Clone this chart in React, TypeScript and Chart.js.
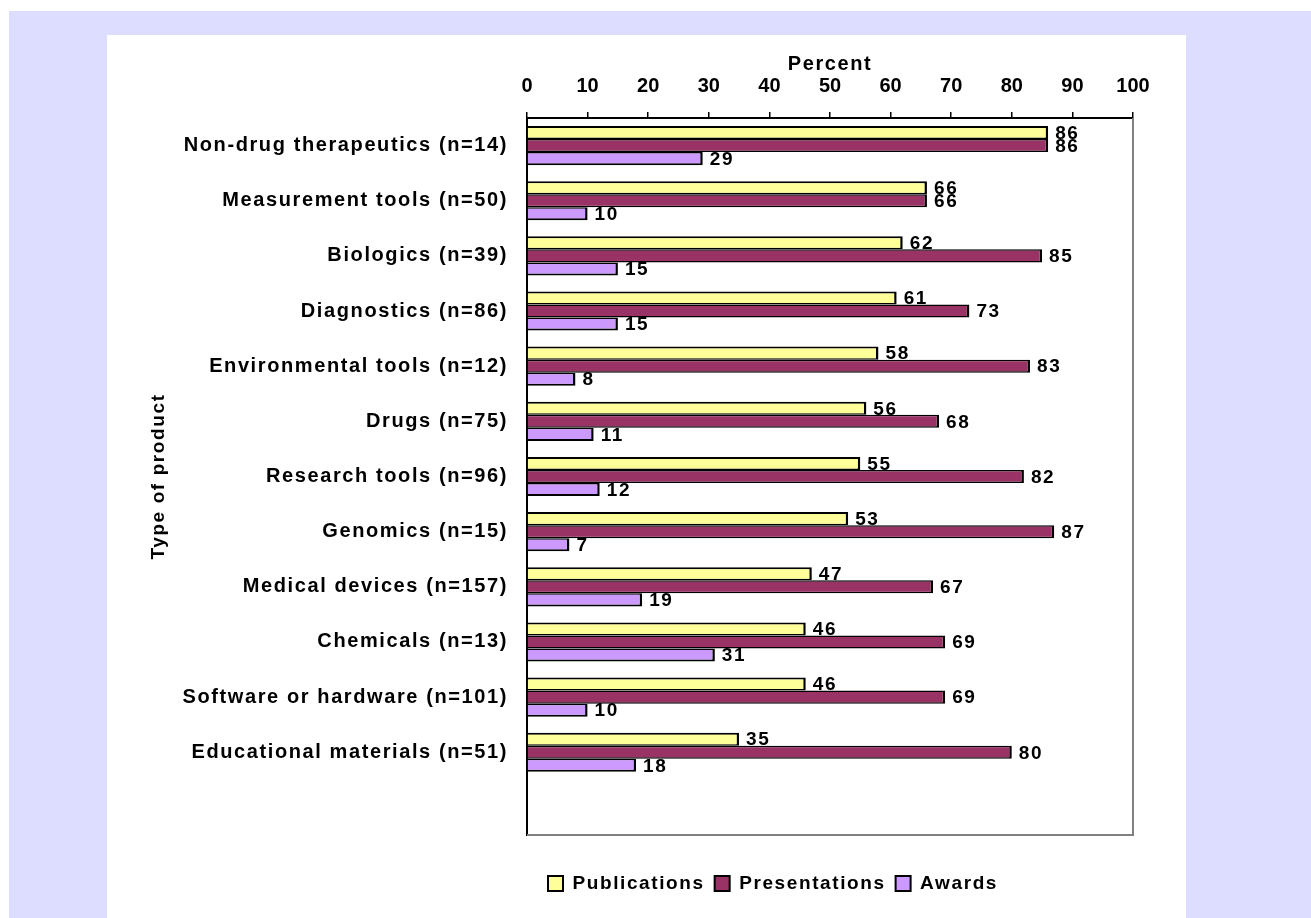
import React, { useEffect, useRef } from 'react';
import { Chart, registerables } from 'chart.js';

Chart.register(...registerables);

const categories = [
  'Non-drug therapeutics (n=14)',
  'Measurement tools (n=50)',
  'Biologics (n=39)',
  'Diagnostics (n=86)',
  'Environmental tools (n=12)',
  'Drugs (n=75)',
  'Research tools (n=96)',
  'Genomics (n=15)',
  'Medical devices (n=157)',
  'Chemicals (n=13)',
  'Software or hardware (n=101)',
  'Educational materials (n=51)',
  '',
];
const publications = [86, 66, 62, 61, 58, 56, 55, 53, 47, 46, 46, 35];
const presentations = [86, 66, 85, 73, 83, 68, 82, 87, 67, 69, 69, 80];
const awards = [29, 10, 15, 15, 8, 11, 12, 7, 19, 31, 10, 18];
const seriesNames = ['Publications', 'Presentations', 'Awards'];
const xMin = 0;
const xMax = 100;
const xStep = 10;
const xTitle = 'Percent';
const yTitle = 'Type of product';

const FONT = "'Liberation Sans', Arial, sans-serif";
const CANVAS_LEFT = 107;
const CANVAS_TOP = 35;
const CANVAS_W = 1079;
const CANVAS_H = 883;
const SPACING = '1.6px';

export default function App() {
  const ref = useRef<HTMLCanvasElement | null>(null);

  useEffect(() => {
    if (!ref.current) return;
    Chart.defaults.font.family = FONT;

    const spacingPlugin = {
      id: 'spacingPlugin',
      beforeLayout(chart: any) {
        chart.ctx.letterSpacing = SPACING;
      },
      beforeDraw(chart: any) {
        chart.ctx.letterSpacing = SPACING;
      },
      beforeDatasetsDraw(chart: any) {
        const { ctx, chartArea } = chart;
        ctx.save();
        ctx.strokeStyle = '#808080';
        ctx.lineWidth = 2;
        ctx.beginPath();
        ctx.moveTo(chartArea.right, chartArea.top);
        ctx.lineTo(chartArea.right, chartArea.bottom);
        ctx.lineTo(chartArea.left, chartArea.bottom);
        ctx.stroke();
        ctx.restore();
      },
      afterDatasetsDraw(chart: any) {
        const ctx = chart.ctx;
        ctx.save();
        ctx.letterSpacing = SPACING;
        ctx.font = `bold 19px ${FONT}`;
        ctx.fillStyle = '#000';
        ctx.textAlign = 'left';
        ctx.textBaseline = 'middle';
        chart.data.datasets.forEach((ds: any, i: number) => {
          const meta = chart.getDatasetMeta(i);
          meta.data.forEach((bar: any, j: number) => {
            const v = ds.data[j];
            if (v === undefined || v === null) return;
            ctx.fillText(String(Math.round(v)), bar.x + 7, bar.y + 1);
          });
        });
        ctx.restore();
        ctx.letterSpacing = '0px';
      },
      afterDraw(chart: any) {
        chart.ctx.letterSpacing = '0px';
      },
    };

    const legendPlace = {
      id: 'legendPlace',
      afterLayout(chart: any) {
        const lg = chart.legend;
        if (!lg) return;
        const w = lg.right - lg.left;
        const h = lg.bottom - lg.top;
        const cx = 773 - CANVAS_LEFT;
        const cy = 883.5 - CANVAS_TOP;
        lg.left = cx - w / 2;
        lg.right = lg.left + w;
        lg.top = cy - 19.5;
        lg.bottom = lg.top + h;
      },
    };

    const colors = ['#FFFF99', '#993366', '#CC99FF'];
    const seriesData = [publications, presentations, awards];
    const borders = [
      { top: 2, right: 2.5, bottom: 1.5, left: 0 },
      { top: 1.5, right: 2.5, bottom: 1.5, left: 0 },
      { top: 1.5, right: 2.5, bottom: 2, left: 0 },
    ];

    const chart = new Chart(ref.current, {
      type: 'bar',
      data: {
        labels: categories,
        datasets: seriesNames.map((name, i) => ({
          label: name,
          data: seriesData[i],
          backgroundColor: colors[i],
          borderColor: '#000000',
          borderWidth: borders[i] as any,
          borderSkipped: 'start' as any,
          categoryPercentage: 0.71,
          barPercentage: 1.0,
        })),
      },
      options: {
        indexAxis: 'y',
        responsive: false,
        animation: false,
        devicePixelRatio: 1,
        layout: { padding: { left: 36, top: 13, right: 53, bottom: 44 } },
        scales: {
          x: {
            position: 'top',
            min: xMin,
            max: xMax,
            afterFit(scale: any) {
              scale.height = 70;
            },
            ticks: {
              stepSize: xStep,
              color: '#000',
              font: { size: 20, weight: 'bold' },
              padding: 14,
              maxRotation: 0,
              z: 1,
            },
            grid: {
              display: true,
              drawOnChartArea: false,
              drawTicks: true,
              tickLength: 6,
              color: '#000',
              lineWidth: 1.5,
            },
            border: { display: true, color: '#000', width: 2 },
            title: {
              display: true,
              text: xTitle,
              color: '#000',
              font: { size: 20, weight: 'bold' },
              padding: { top: 4, bottom: 0 },
            },
          },
          y: {
            position: 'left',
            afterFit(scale: any) {
              scale.width = 384;
            },
            ticks: {
              color: '#000',
              font: { size: 20, weight: 'bold' },
              padding: 19,
              autoSkip: false,
            },
            grid: { display: false, drawTicks: false },
            border: { display: true, color: '#000', width: 2 },
            title: {
              display: true,
              text: yTitle,
              color: '#000',
              font: { size: 19, weight: 'bold' },
              padding: { top: 4, bottom: 0 },
            },
          },
        },
        plugins: {
          legend: {
            display: true,
            position: 'bottom',
            labels: {
              color: '#000',
              font: { size: 19, weight: 'bold' },
              boxWidth: 15,
              boxHeight: 15,
              padding: 10,
              generateLabels(chart: any) {
                return chart.data.datasets.map((ds: any, i: number) => ({
                  text: ds.label,
                  fillStyle: ds.backgroundColor,
                  strokeStyle: '#000',
                  lineWidth: 2,
                  hidden: false,
                  datasetIndex: i,
                  fontColor: '#000',
                }));
              },
            },
          },
          tooltip: { enabled: false },
        },
      },
      plugins: [spacingPlugin, legendPlace],
    } as any);

    return () => chart.destroy();
  }, []);

  return (
    <div>
      <div
        style={{
          position: 'absolute',
          left: 9,
          top: 11,
          width: 1302,
          height: 907,
          background: '#DDDDFF',
        }}
      />
      <canvas
        ref={ref}
        width={CANVAS_W}
        height={CANVAS_H}
        style={{
          position: 'absolute',
          left: CANVAS_LEFT,
          top: CANVAS_TOP,
          width: CANVAS_W,
          height: CANVAS_H,
          background: '#FFFFFF',
        }}
      />
    </div>
  );
}
